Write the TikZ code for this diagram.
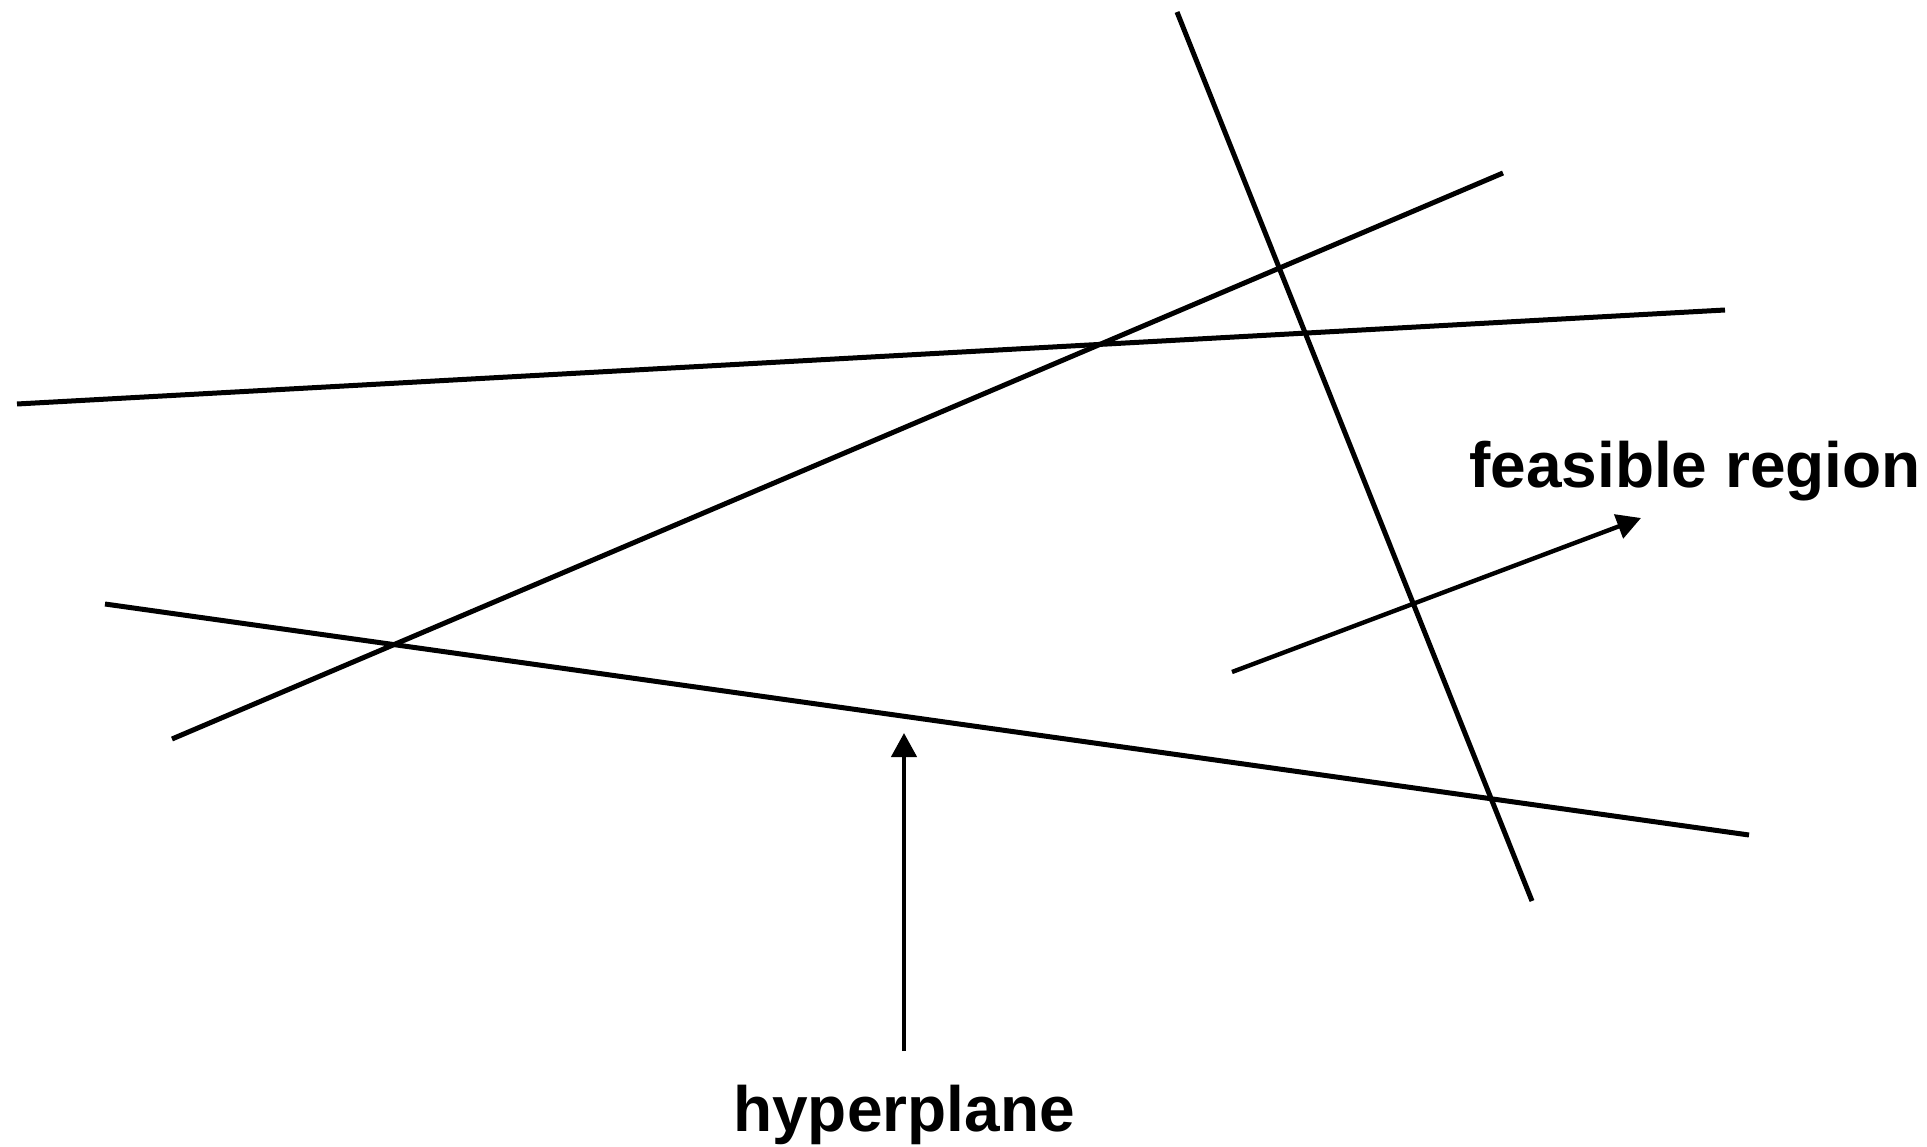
\documentclass[tikz,border=0pt]{standalone}
\usepackage{fontspec}
\setmainfont{Liberation Sans}
\usetikzlibrary{arrows.meta}
\begin{document}
\begin{tikzpicture}[x=1pt,y=-1pt,
  hline/.style={line width=5pt,black},
  parrow/.style={line width=4.4pt,black,-{Triangle[width=25pt,length=24pt]}},
  lbl/.style={font=\fontsize{64}{70}\selectfont\bfseries,inner sep=0pt,anchor=base}]
\useasboundingbox[fill=white] (0,0) rectangle (1927,1147);
% hyperplane lines
\coordinate (a1) at (1177,12);  \coordinate (a2) at (1532,901);
\coordinate (b1) at (172,739);  \coordinate (b2) at (1503,173);
\coordinate (c1) at (17,404);   \coordinate (c2) at (1725,310);
\coordinate (d1) at (105,604);  \coordinate (d2) at (1749,835);
\draw[hline] (a1) -- (a2);
\draw[hline] (b1) -- (b2);
\draw[hline] (c1) -- (c2);
\draw[hline] (d1) -- (d2);
% labels
\node[lbl] (feas) at (1695,487) {feasible region};
\node[lbl] (hyp) at (904,1131) {hyperplane};
% arrows
\coordinate (fa1) at (1232,672); \coordinate (fa2) at (1641,518);
\coordinate (ha1) at (904,1051); \coordinate (ha2) at (904,733);
\draw[parrow] (fa1) -- (fa2);
\draw[parrow] (ha1) -- (ha2);
\end{tikzpicture}
\end{document}
